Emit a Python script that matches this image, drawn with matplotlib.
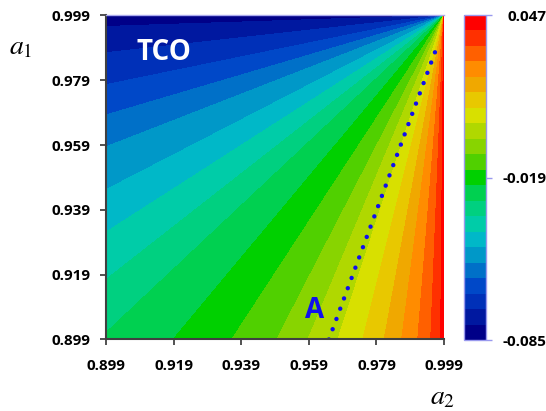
import numpy as np
import matplotlib
matplotlib.use("Agg")
import matplotlib.pyplot as plt
from matplotlib.colors import ListedColormap, BoundaryNorm
from matplotlib.ticker import NullLocator

# ---- data ----
a_min, a_max = 0.899, 0.999
tick_values = [0.899, 0.919, 0.939, 0.959, 0.979, 0.999]
tick_labels = ["0.899", "0.919", "0.939", "0.959", "0.979", "0.999"]
z_min, z_max = -0.085, 0.047
n_bands = 21
cbar_ticks = [-0.085, -0.019, 0.047]
cbar_labels = ["-0.085", "-0.019", "0.047"]
# angle (deg, measured at the corner (0.999, 0.999) from the top edge) of each band boundary
boundary_angles = [0.0, 1.98, 6.6, 12.1, 17.1, 22.1, 28.3, 33.8, 39.2, 44.4, 51.3,
                   57.9, 63.7, 68.1, 72.6, 76.5, 80.0, 82.9, 85.6, 87.8, 89.5, 90.0]
band_colors = ["#000088", "#0018a0", "#0030b8", "#0048c8", "#0070c8", "#0098c8",
               "#00b8c8", "#00cca8", "#00d080", "#00d050", "#00d000", "#50d000",
               "#88d400", "#b0d800", "#d8e000", "#e8c800", "#f0a800", "#ff8c00",
               "#ff6000", "#ff3000", "#ff0000"]
line_a2 = [0.9649, 0.9968]
line_a1 = [0.899, 0.989]

levels = np.linspace(z_min, z_max, n_bands + 1)

plt.rcParams['font.family'] = ['Open Sans', 'DejaVu Sans']
plt.rcParams['mathtext.fontset'] = 'stix'

fig = plt.figure(figsize=(5.46, 4.11), dpi=100)
ax = fig.add_axes([0.1947, 0.174, 0.6185, 0.7883])
cax = fig.add_axes([0.8507, 0.1727, 0.0403, 0.7908])

g = np.linspace(a_min, a_max, 700)
A2, A1 = np.meshgrid(g, g)
theta = np.degrees(np.arctan2(a_max - A1, a_max - A2))
Z = np.interp(theta, boundary_angles, levels)

cmap = ListedColormap(band_colors)
norm = BoundaryNorm(levels, cmap.N)
cs = ax.contourf(A2, A1, Z, levels=levels, cmap=cmap, norm=norm)
cs.set_edgecolor('face')
cs.set_linewidth(0.4)

ax.plot(line_a2, line_a1, color="#1010ee", linewidth=3.2,
        linestyle=(0, (0.01, 2.45)), dash_capstyle='round')

ax.text(0.9162, 0.9876, "TCO", color="white", fontsize=20, fontweight='bold',
        ha='center', va='center')
ax.text(0.9607, 0.9081, "A", color="#1010ee", fontsize=20, fontweight='bold',
        ha='center', va='center')

ax.set_xlim(a_min, a_max)
ax.set_ylim(a_min, a_max)
ax.set_xticks(tick_values)
ax.set_xticklabels(tick_labels)
ax.set_yticks(tick_values)
ax.set_yticklabels(tick_labels)
for lab in ax.get_xticklabels() + ax.get_yticklabels():
    lab.set_fontweight('bold')
    lab.set_fontsize(11)
ax.tick_params(axis='both', direction='out', length=4.3, width=1.2, color='#333333')
ax.tick_params(axis='x', pad=10)
ax.tick_params(axis='y', pad=7)
for s in ['left', 'bottom']:
    ax.spines[s].set_color('#404040')
    ax.spines[s].set_linewidth(1.5)
ax.spines['right'].set_visible(False)
ax.spines['top'].set_color('#aaaaee')
ax.spines['top'].set_linewidth(1.0)

fig.text(21 / 546, 1 - 47 / 411, "$a_1$", fontsize=20, ha='center', va='center')
fig.text(443 / 546, 1 - 397 / 411, "$a_2$", fontsize=20, ha='center', va='center')

cb = fig.colorbar(cs, cax=cax)
cb.set_ticks(cbar_ticks)
cb.set_ticklabels(cbar_labels)
cax.yaxis.set_minor_locator(NullLocator())
cb.outline.set_edgecolor('#9999ee')
cb.outline.set_linewidth(1.0)
cax.tick_params(axis='y', which='major', direction='out', length=4, width=1,
                color='#9999ee', pad=39)
cax.tick_params(axis='y', which='minor', length=0)
for lab in cax.get_yticklabels():
    lab.set_fontweight('bold')
    lab.set_fontsize(11)
    lab.set_ha('right')

fig.savefig("out.png", dpi=100)
